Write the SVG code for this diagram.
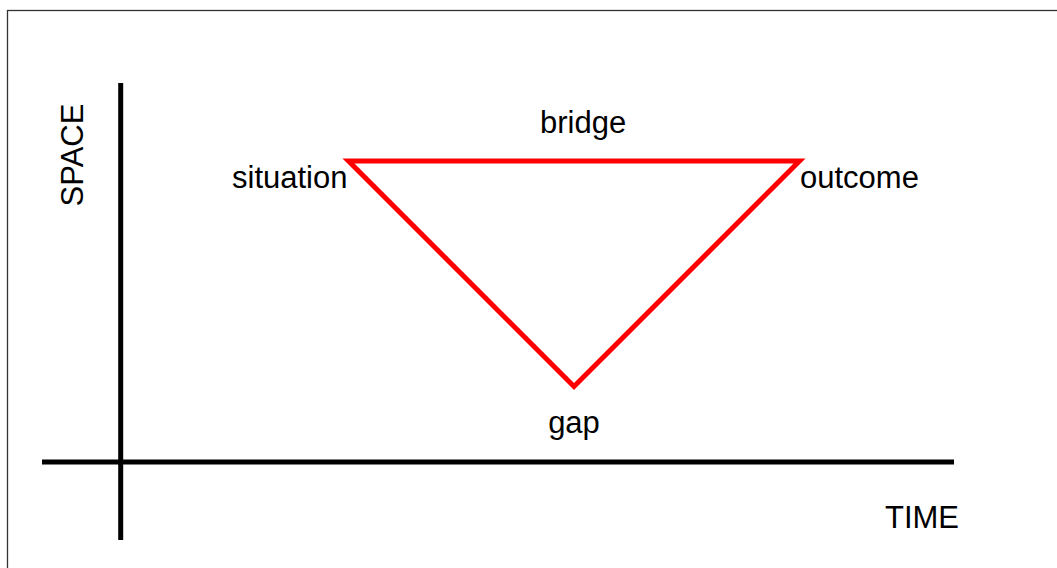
<svg xmlns="http://www.w3.org/2000/svg" width="1057" height="568" viewBox="0 0 1057 568">
  <style>
    .lbl { font-family: "Liberation Sans", Arial, sans-serif; font-size: 31px; fill: #000; }
    .axis { stroke: #000; stroke-width: 5; fill: none; }
    .tri { stroke: #ff0000; stroke-width: 5; fill: none; stroke-linejoin: miter; }
  </style>
  <rect x="0" y="0" width="1057" height="568" fill="#fff"/>
  <rect id="frame" x="7.5" y="10.5" width="1070" height="580" fill="none" stroke="#333" stroke-width="1.3"/>
  <g id="connectors">
    <line class="axis" x1="120.7" y1="83" x2="120.7" y2="540"/>
    <line class="axis" x1="42" y1="462" x2="954" y2="462"/>
    <polygon class="tri" points="348.5,161 799.5,161 574,386.5"/>
  </g>
  <g id="node-space"><text class="lbl" text-anchor="middle" transform="translate(83.3,155) rotate(-90)">SPACE</text></g>
  <g id="node-time"><text class="lbl" x="885" y="528">TIME</text></g>
  <g id="node-situation"><text class="lbl" x="232" y="188">situation</text></g>
  <g id="node-outcome"><text class="lbl" x="800" y="188">outcome</text></g>
  <g id="node-bridge"><text class="lbl" x="540" y="133">bridge</text></g>
  <g id="node-gap"><text class="lbl" x="574" y="433" text-anchor="middle">gap</text></g>
</svg>
